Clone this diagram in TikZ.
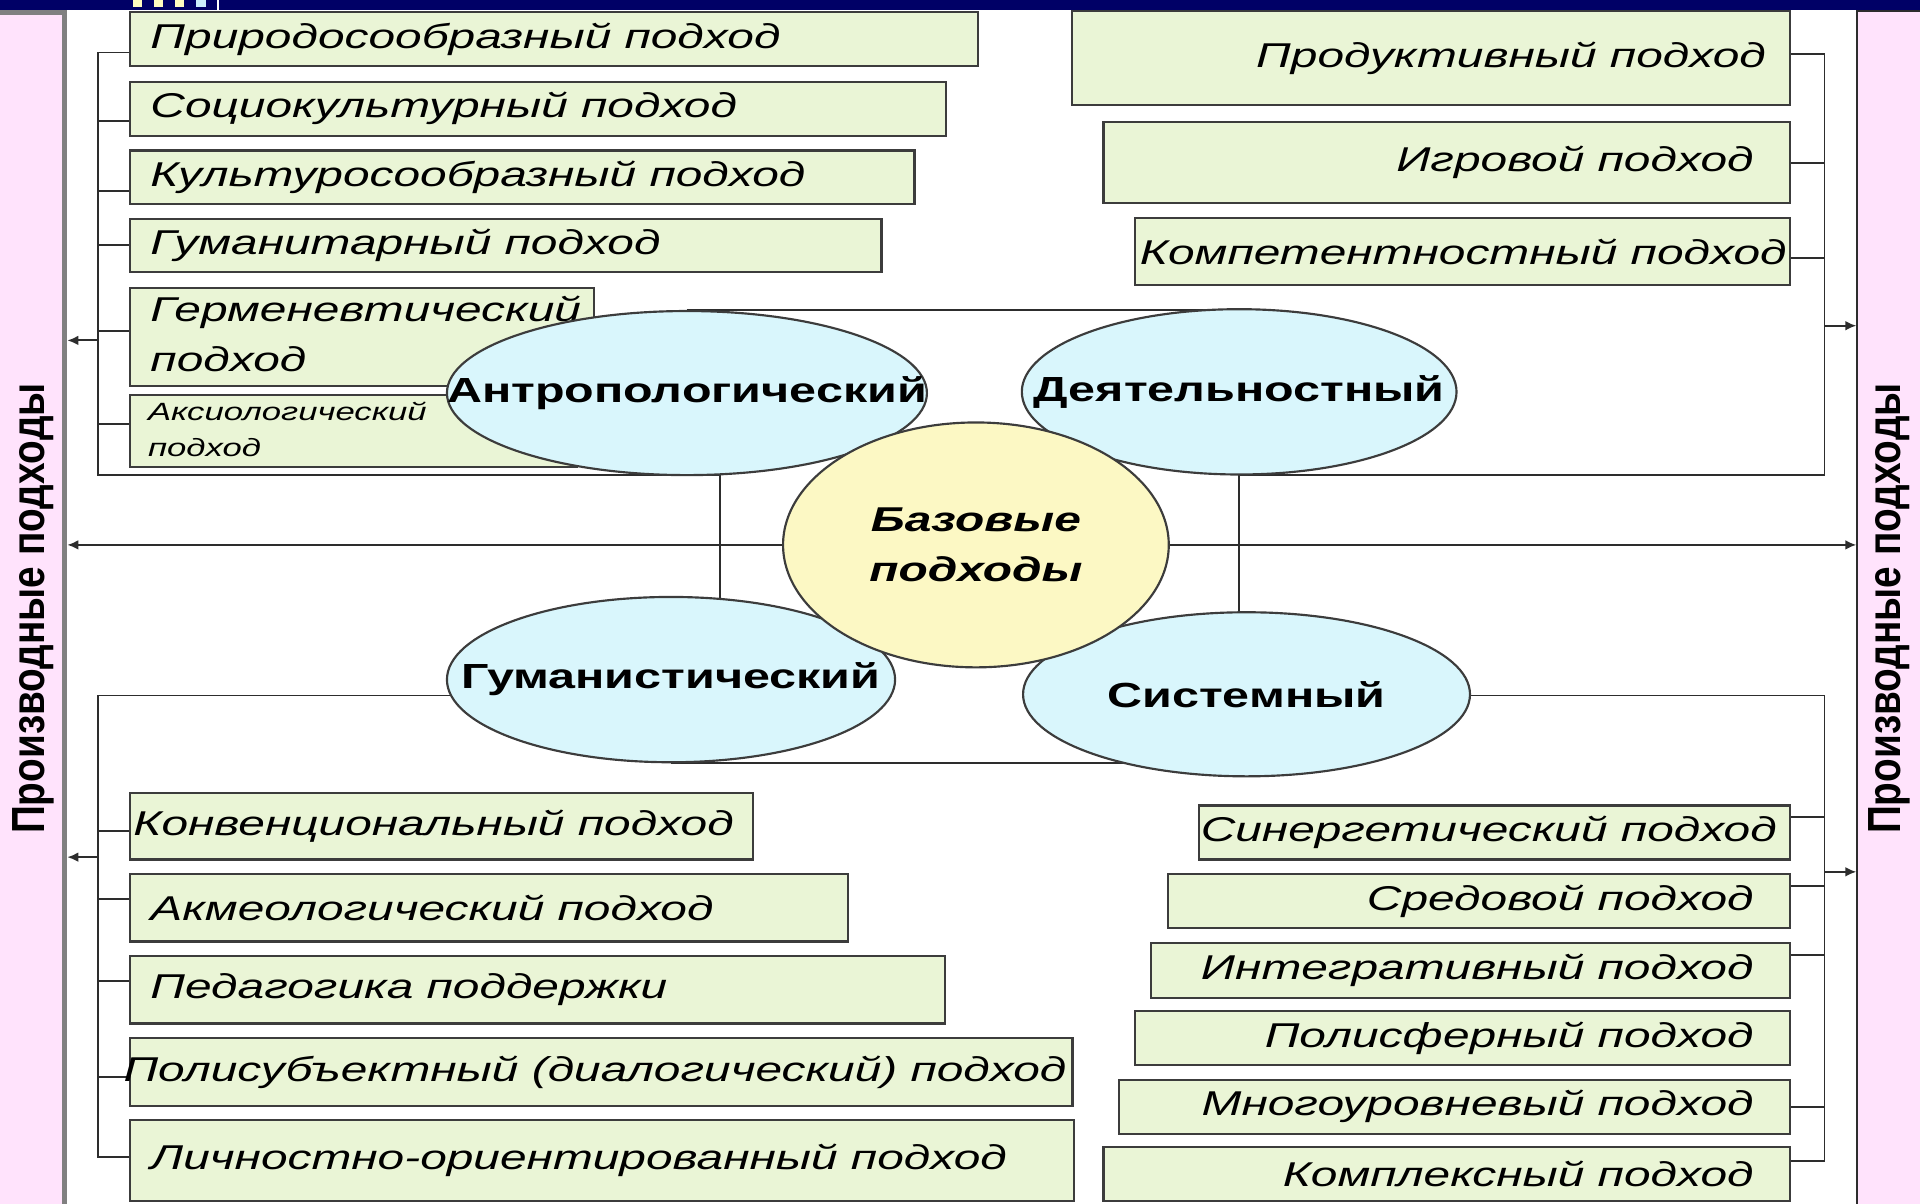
\documentclass[tikz,border=0pt]{standalone}
\usepackage{fontspec}
\setmainfont{Liberation Sans}[FakeStretch=1.39]
\newfontfamily\sidefont{Liberation Sans}
\usetikzlibrary{shapes.geometric,arrows.meta,backgrounds}

\definecolor{navy}{RGB}{0,0,102}
\definecolor{panelfill}{RGB}{255,227,252}
\definecolor{boxfill}{RGB}{234,245,214}
\definecolor{boxline}{RGB}{60,60,60}
\definecolor{ovalfill}{RGB}{217,246,252}
\definecolor{basefill}{RGB}{252,248,196}
\definecolor{lineclr}{RGB}{45,45,45}

% text inside a box: width, padding, text
\newcommand{\ltxt}[3]{\makebox[#1mm][l]{\hspace{#2mm}#3}}
\newcommand{\rtxt}[3]{\makebox[#1mm][r]{#3\hspace{#2mm}}}

\begin{document}
\begin{tikzpicture}[x=0.1mm,y=-0.1mm,
  line/.style={draw=lineclr,line width=0.45pt},
  arr/.style={line,-{Latex[length=0.9mm,width=0.8mm]}},
  box/.style={draw=boxline,fill=boxfill,line width=0.5pt,inner sep=0pt,
    minimum height=4.4mm,font=\fontsize{8}{9.6}\selectfont\itshape},
  lbox/.style={box,anchor=north west},
  rbox/.style={box,anchor=north east},
  oval/.style={ellipse,draw=boxline,fill=ovalfill,line width=0.5pt,inner sep=0pt,
    font=\fontsize{8.1}{9.6}\selectfont\bfseries},
  panel/.style={fill=panelfill,minimum width=7mm,minimum height=99mm},
  side/.style={rotate=90,inner sep=0pt,font=\sidefont\fontsize{9}{10}\selectfont\bfseries}]
  \useasboundingbox (0,0) rectangle (1568,983);

  \node[panel,draw=gray,line width=0.4mm,anchor=north east] (lpanel) at (55,8) {};
  \node[panel,draw=lineclr,line width=0.4pt,anchor=north west] (rpanel) at (1516,8) {};
  \node[side] (ltitle) at (27,497) {\scalebox{1}[1.2]{Производные подходы}};
  \node[side] (rtitle) at (1543,497) {\scalebox{1}[1.2]{Производные подходы}};

  % upper left
  \node[lbox] (pr) at (105,9) {\ltxt{69.3}{1.7}{Природосообразный подход}};
  \node[lbox] (so) at (105,66) {\ltxt{66.7}{1.7}{Социокультурный подход}};
  \node[lbox] (ku) at (105,122) {\ltxt{64.1}{1.7}{Культуросообразный подход}};
  \node[lbox,minimum height=4.3mm] (gu) at (105,178) {\ltxt{61.4}{1.7}{Гуманитарный подход}};
  \node[lbox,minimum height=7.7mm] (ge) at (105,234) {\ltxt{37.9}{1.7}{\fontsize{8}{11.4}\selectfont
    \begin{tabular}{@{}l@{}}Герменевтический\\подход\end{tabular}}};
  \node[lbox,minimum height=5.6mm] (ak) at (105,322) {\ltxt{36.5}{1.5}{\fontsize{5.8}{8.3}\selectfont
    \begin{tabular}{@{}l@{}}Аксиологический\\подход\end{tabular}}};

  % upper right
  \node[rbox,minimum height=7.7mm] (prod) at (1463,8) {\rtxt{58.7}{2.0}{Продуктивный подход}};
  \node[rbox,minimum height=6.6mm] (igr) at (1463,99) {\rtxt{56.1}{3.0}{Игровой подход}};
  \node[rbox,minimum height=5.5mm] (komp) at (1463,177) {\rtxt{53.5}{0.3}{Компетентностный подход}};

  % lower left
  \node[lbox,minimum height=5.4mm] (konv) at (105,647) {\ltxt{50.9}{0.3}{Конвенциональный подход}};
  \node[lbox,minimum height=5.5mm] (akm) at (105,713) {\ltxt{58.7}{1.7}{Акмеологический подход}};
  \node[lbox,minimum height=5.5mm] (ped) at (105,780) {\ltxt{66.6}{1.7}{Педагогика поддержки}};
  \node[lbox,minimum height=5.5mm] (poli) at (105,847) {\ltxt{77.0}{-0.5}{Полисубъектный (диалогический) подход}};
  \node[lbox,minimum height=6.6mm] (lich) at (105,914) {\ltxt{77.1}{1.7}{Личностно-ориентированный подход}};

  % lower right
  \node[rbox] (sin) at (1463,657) {\rtxt{48.3}{1.1}{Синергетический подход}};
  \node[rbox] (sred) at (1463,713) {\rtxt{50.8}{3.0}{Средовой подход}};
  \node[rbox,minimum height=4.5mm] (integ) at (1463,769) {\rtxt{52.2}{3.0}{Интегративный подход}};
  \node[rbox] (polisf) at (1463,825) {\rtxt{53.5}{3.0}{Полисферный подход}};
  \node[rbox] (mnog) at (1463,881) {\rtxt{54.8}{3.0}{Многоуровневый подход}};
  \node[rbox] (kompl) at (1463,936) {\rtxt{56.1}{3.0}{Комплексный подход}};

  % base approaches
  \node[oval,minimum width=39.2mm,minimum height=13.4mm] (ant) at (561,321) {\makebox[0pt]{Антропологический}};
  \node[oval,minimum width=35.5mm,minimum height=13.5mm] (dey) at (1012,320) {\makebox[0pt]{Деятельностный}};
  \node[oval,minimum width=36.6mm,minimum height=13.5mm] (gum) at (548,555) {\makebox[0pt]{Гуманистический}};
  \node[oval,minimum width=36.5mm,minimum height=13.4mm] (sys) at (1018,567) {\makebox[0pt]{Системный}};
  \node[oval,fill=basefill,minimum width=31.5mm,minimum height=20mm,align=center,
    font=\fontsize{8}{11.7}\selectfont\bfseries\itshape] (base) at (797,445) {Базовые\\подходы};

  \coordinate (ulbot) at (80,388);
  \coordinate (lvert) at (588,388);
  \coordinate (urbot) at (1490,388);
  \coordinate (llbus) at (80,568);
  \coordinate (lrbus) at (1490,568);
  \coordinate (ularr) at (80,278);
  \coordinate (urarr) at (1490,266);
  \coordinate (llarr) at (80,700);
  \coordinate (lrarr) at (1490,712);

  \begin{scope}[on background layer]
    \draw[line] (ant.north) -- (ant.north -| dey.center);
    \draw[line] (gum.south) -- (gum.south -| sys.center);
    \draw[line] ([yshift=-1.1mm]pr.west) -| (ulbot) -- (lvert) -- (lvert |- gum.center);
    \foreach \n/\s in {so/-1.0,ku/-1.1,gu/0,ge/0.5,ak/0.6}
      \draw[line] ([yshift=\s mm]\n.west) -- ([yshift=\s mm]\n.west -| ulbot);
    \draw[line] ([yshift=0.35mm]prod.east) -| (urbot) -- (dey.center |- urbot) -- (dey.center |- sys.center);
    \foreach \n/\s in {igr/0,komp/-0.55}
      \draw[line] ([yshift=\s mm]\n.east) -- ([yshift=\s mm]\n.east -| urbot);
    \draw[line] (gum.center |- llbus) -- (llbus) |- ([yshift=0.3mm]lich.west);
    \foreach \n/\s in {konv/-0.4,akm/0.75,ped/0.75,poli/-0.45}
      \draw[line] ([yshift=\s mm]\n.west) -- ([yshift=\s mm]\n.west -| llbus);
    \draw[line] (sys.center |- lrbus) -- (lrbus) |- ([yshift=1.1mm]kompl.east);
    \foreach \n/\s in {sin/1.3,sred/1.2,integ/1.25,mnog/0}
      \draw[line] ([yshift=\s mm]\n.east) -- ([yshift=\s mm]\n.east -| lrbus);
    \draw[arr] (base.west) -- (base.west -| lpanel.east);
    \draw[arr] (base.east) -- (base.east -| rpanel.west);
  \end{scope}
  \draw[arr] (ularr) -- (ularr -| lpanel.east);
  \draw[arr] (llarr) -- (llarr -| lpanel.east);
  \draw[arr] (urarr) -- (urarr -| rpanel.west);
  \draw[arr] (lrarr) -- (lrarr -| rpanel.west);

  % title bar
  \fill[navy] (0,0) rectangle (1568,8);
  \fill[yellow!25] (109,0) rectangle (116,6);
  \fill[yellow!25] (126,0) rectangle (133,6);
  \fill[yellow!25] (143,0) rectangle (150,6);
  \fill[cyan!20] (160,0) rectangle (168,6);
  \fill[white] (177.5,0) rectangle (178.5,8);
\end{tikzpicture}
\end{document}
